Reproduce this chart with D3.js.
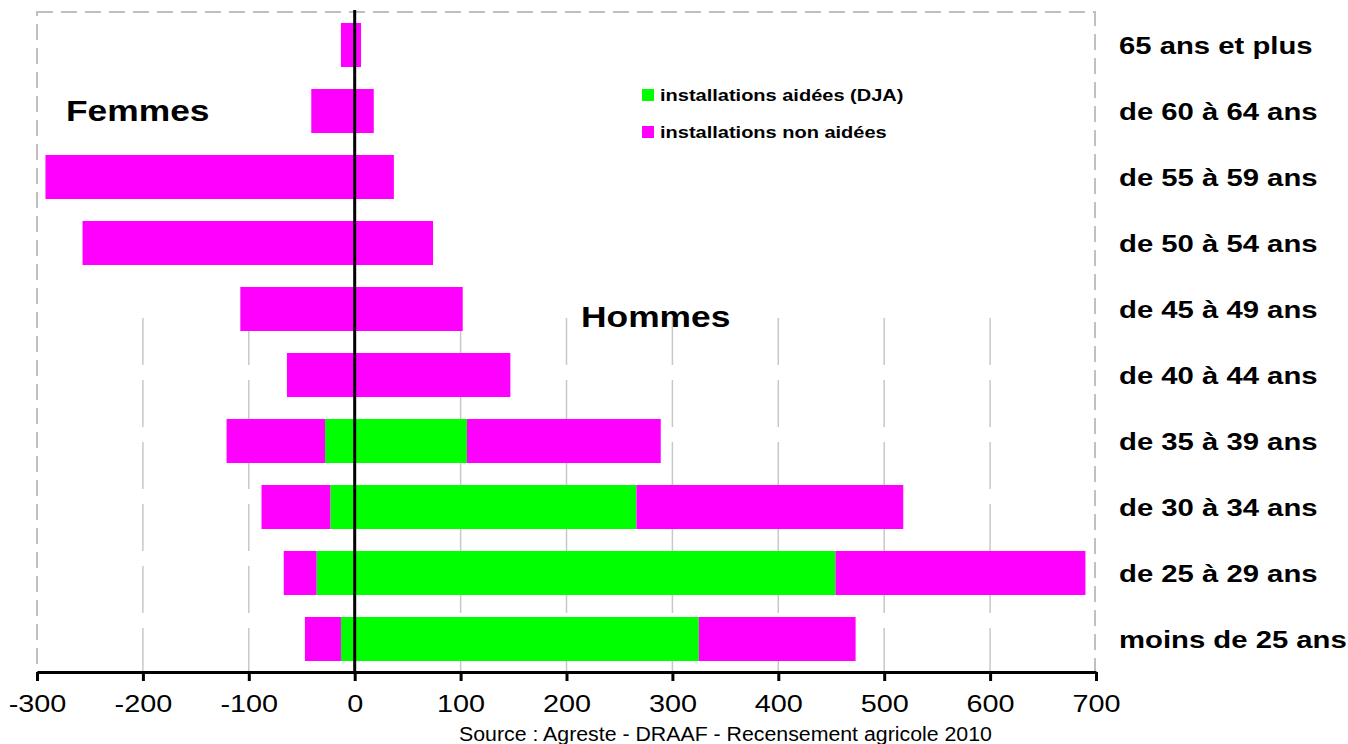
<!DOCTYPE html>
<html>
<head>
<meta charset="utf-8">
<script src="https://cdn.jsdelivr.net/npm/d3@7"></script>
<style>
  body { margin: 0; background: #fff; }
  svg { font-family: "Liberation Sans", Arial, sans-serif; }
  .cat { font-weight: bold; font-size: 24px; }
</style>
</head>
<body>
<div id="chart"></div>
<script>
// tranches d'age, du haut vers le bas
const categories = ["65 ans et plus", "de 60 à 64 ans", "de 55 à 59 ans", "de 50 à 54 ans",
  "de 45 à 49 ans", "de 40 à 44 ans", "de 35 à 39 ans", "de 30 à 34 ans",
  "de 25 à 29 ans", "moins de 25 ans"];
// femmes (valeurs positives, tracees a gauche)
const femmesDJA    = [0, 0, 0, 0, 0, 0, 28, 23, 36, 13];
const femmesNonDJA = [13, 41, 292, 257, 108, 64, 93, 65, 31, 34];
// hommes
const hommesDJA    = [0, 0, 0, 0, 0, 0, 106, 266, 454, 325];
const hommesNonDJA = [6, 18, 37, 74, 102, 147, 183, 252, 236, 148];
const xTicks = [-300, -200, -100, 0, 100, 200, 300, 400, 500, 600, 700];
const legendItems = [["installations aidées (DJA)", "#00ff00"], ["installations non aidées", "#ff00ff"]];

const width = 1348, height = 744;
const m = { top: 12, left: 37, right: 1096, bottom: 672 };
const stretch = 1.22; // le texte d'origine est plus large

const svg = d3.select("#chart").append("svg")
  .attr("width", width).attr("height", height);

const x = d3.scaleLinear().domain([-300, 700]).range([m.left, m.right]);
const y = d3.scaleBand().domain(categories).range([m.top, m.bottom]).paddingInner(0.333).paddingOuter(0.1665);

// texte etire horizontalement a partir de (tx, ty)
function wideText(tx, ty, s, sx) {
  return svg.append("text")
    .attr("transform", `translate(${tx},${ty}) scale(${sx || stretch},1)`)
    .text(s);
}

// cadre pointille
svg.append("rect")
  .attr("x", m.left).attr("y", m.top)
  .attr("width", x(700) - m.left - 1).attr("height", m.bottom - m.top)
  .attr("fill", "none").attr("stroke", "#c0c0c0").attr("stroke-width", 2)
  .attr("stroke-dasharray", "16,8");

// grille verticale (partie basse seulement)
svg.selectAll(".grid").data(xTicks.filter(d => d !== 0 && d > -300 && d < 700))
  .enter().append("line")
  .attr("x1", d => x(d)).attr("x2", d => x(d))
  .attr("y1", 318).attr("y2", m.bottom)
  .attr("stroke", "#c8c8c8").attr("stroke-width", 1.5)
  .attr("stroke-dasharray", "47,15");

// segments empiles : [categorie, debut, fin, couleur]
const segs = [];
categories.forEach((c, i) => {
  segs.push([c, 0, -femmesDJA[i], "#00ff00"]);
  segs.push([c, -femmesDJA[i], -femmesDJA[i] - femmesNonDJA[i], "#ff00ff"]);
  segs.push([c, 0, hommesDJA[i], "#00ff00"]);
  segs.push([c, hommesDJA[i], hommesDJA[i] + hommesNonDJA[i], "#ff00ff"]);
});

svg.selectAll(".bar").data(segs.filter(s => s[1] !== s[2]))
  .enter().append("rect")
  .attr("class", "bar")
  .attr("x", d => x(Math.min(d[1], d[2])))
  .attr("y", d => y(d[0]))
  .attr("width", d => Math.abs(x(d[2]) - x(d[1])))
  .attr("height", y.bandwidth())
  .attr("fill", d => d[3]);

// ligne du zero
svg.append("line")
  .attr("x1", x(0)).attr("x2", x(0))
  .attr("y1", 10).attr("y2", m.bottom)
  .attr("stroke", "#000").attr("stroke-width", 3);

// axe x
const xAxis = d3.axisBottom(x).tickValues(xTicks).tickSize(9).tickPadding(14)
  .tickSizeOuter(0).tickFormat(d => String(d));
const gx = svg.append("g")
  .attr("transform", `translate(0,${m.bottom})`)
  .call(xAxis);
gx.select(".domain").attr("stroke-width", 3);
gx.selectAll(".tick line").attr("stroke-width", 3);
gx.selectAll(".tick text")
  .attr("font-family", "Liberation Sans, Arial, sans-serif")
  .attr("font-size", 24).attr("fill", "#000")
  .attr("transform", "scale(1.2,1)")
  .attr("y", 23);

// libelles des tranches
categories.forEach(c => {
  wideText(1119, y(c) + y.bandwidth() / 2 + 8.5, c)
    .attr("font-weight", "bold").attr("font-size", 24);
});

wideText(66, 121, "Femmes").attr("font-weight", "bold").attr("font-size", 29);
wideText(581, 327, "Hommes").attr("font-weight", "bold").attr("font-size", 29);

// legende
const leg = svg.selectAll(".leg").data(legendItems).enter().append("g")
  .attr("transform", (d, i) => `translate(642,${89 + i * 37})`);
leg.append("rect").attr("width", 12).attr("height", 12).attr("fill", d => d[1]);
leg.append("text")
  .attr("transform", `translate(18,12) scale(1.25,1)`)
  .attr("font-weight", "bold").attr("font-size", 16).text(d => d[0]);

wideText(459, 741, "Source : Agreste - DRAAF - Recensement agricole 2010", 1.066)
  .attr("font-size", 20);
</script>
</body>
</html>
